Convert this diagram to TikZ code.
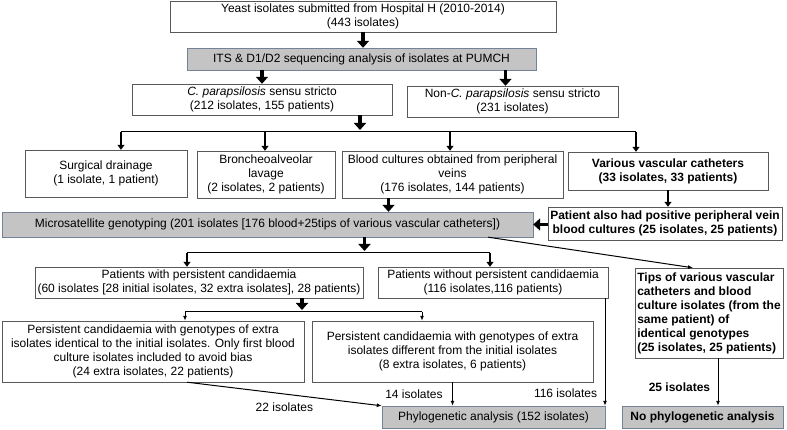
\documentclass[tikz,border=0pt]{standalone}
\usepackage{fontspec}
\setmainfont{Liberation Sans}
\usetikzlibrary{positioning,arrows.meta,calc}

\definecolor{greyfill}{RGB}{196,196,196}
\definecolor{greyedge}{RGB}{115,130,150}

\tikzset{
  box/.style={draw=black!65, rectangle, align=center, inner sep=2pt},
  greybox/.style={box, draw=greyedge, fill=greyfill},
  bigarrow/.style={line width=3.2pt, -{Triangle[width=12pt,length=7pt]}},
  medarrow/.style={line width=2pt, -{Triangle[width=7pt,length=5pt]}},
  smallarrow/.style={line width=1pt, -{Latex[width=4pt,length=5pt]}}
}

\begin{document}
\begin{tikzpicture}[x=1pt,y=-1pt,>=latex,
	font=\fontsize{12}{14}\selectfont]
	\useasboundingbox (0,0) rectangle (787,430);

	\node[box, minimum width=386, minimum height=31] 
		  (yeast) at (363,16.5) 
		  {Yeast isolates submitted from Hospital H (2010-2014)\\(443 isolates)};
	\node[greybox, minimum width=349, minimum height=22] 
		  (its) at (361.5,59) 
		  {ITS \& D1/D2 sequencing analysis of isolates at PUMCH};
	\node[box, minimum width=260, minimum height=31] 
		  (cpara) at (262,99.5) 
		  {\textit{C. parapsilosis} sensu stricto\\(212 isolates, 155 patients)};
	\node[box, minimum width=211, minimum height=31] 
		  (noncp) at (512.5,101.5) 
		  {Non-\textit{C. parapsilosis} sensu stricto\\(231 isolates)};

	\node[box, minimum width=162, minimum height=47] 
		  (surgical) at (106,173.5) 
		  {Surgical drainage\\(1 isolate, 1 patient)};
	\node[box, minimum width=138, minimum height=47] 
		  (broncho) at (266,174.5) 
		  {Broncheoalveolar\\lavage\\(2 isolates, 2 patients)};
	\node[box, minimum width=221, minimum height=47] 
		  (blood) at (452.5,174.5) 
		  {Blood cultures obtained from peripheral\\veins\\(176 isolates, 144 patients)};
	\node[box, minimum width=200, minimum height=38, font=\fontsize{12}{14}\bfseries] 
		  (vasc) at (668,171) 
		  {Various vascular catheters\\(33 isolates, 33 patients)};

	\node[greybox, minimum width=531, minimum height=25] 
		  (micro) at (267.5,224.5) 
		  {Microsatellite genotyping (201 isolates [176 blood+25tips of various vascular catheters])};
	\node[box, minimum width=234, minimum height=33, font=\fontsize{12}{14}\bfseries] 
		  (patient) at (665,223.5) 
		  {Patient also had positive peripheral vein\\blood cultures (25 isolates, 25 patients)};

	\node[box, minimum width=328, minimum height=31] 
		  (pwith) at (199,282.5) 
		  {Patients with persistent candidaemia\\(60 isolates [28 initial isolates, 32 extra isolates], 28 patients)};
	\node[box, minimum width=230, minimum height=31] 
		  (pwithout) at (493,282.5) 
		  {Patients without persistent candidaemia\\(116 isolates,116 patients)};
	\node[box, minimum width=148, minimum height=90, align=left, font=\fontsize{12}{14}\bfseries] 
		  (tips) at (709,313) 
		  {Tips of various vascular\\catheters and blood\\culture isolates (from the\\same patient) of\\identical genotypes\\(25 isolates, 25 patients)};

	\node[box, minimum width=302, minimum height=61] 
		  (psame) at (153,351.5) 
		  {Persistent candidaemia with genotypes of extra\\isolates identical to the initial isolates. Only first blood\\culture isolates included to avoid bias\\(24 extra isolates, 22 patients)};
	\node[box, minimum width=281, minimum height=61] 
		  (pdiff) at (452.5,351.5) 
		  {Persistent candidaemia with genotypes of extra\\isolates different from the initial isolates\\(8 extra isolates, 6 patients)};

	\node[greybox, minimum width=223, minimum height=22] 
		  (phylo) at (493.5,417) 
		  {Phylogenetic analysis (152 isolates)};
	\node[greybox, minimum width=161, minimum height=22, font=\fontsize{12}{14}\bfseries] 
		  (nophylo) at (702.5,417) 
		  {No phylogenetic analysis};

	% branch points
	\coordinate (b1) at (121,132);
	\coordinate (b2) at (265,132);
	\coordinate (b3) at (450,132);
	\coordinate (b4) at (636,132);
	\coordinate (c1) at (187,253);
	\coordinate (c2) at (490,253);
	\coordinate (d1) at (185,312);
	\coordinate (d2) at (422,312);

	\draw[bigarrow] (yeast.south) -- (yeast.south |- its.north);
	\draw[bigarrow] (its.south -| cpara.north) -- (cpara.north);
	\draw[bigarrow] ([xshift=-7pt]its.south -| noncp.north) -- ([xshift=-7pt]noncp.north);
	\draw[bigarrow] ([xshift=98pt]cpara.south) -- ([xshift=98pt,yshift=2pt]cpara.south |- b1);

	\draw[line width=1pt] (b1) -- (b4);
	\draw[medarrow] (b1) -- (b1 |- surgical.north);
	\draw[medarrow] (b2) -- (b2 |- broncho.north);
	\draw[medarrow] (b3) -- (b3 |- blood.north);
	\draw[medarrow] (b4) -- (b4 |- vasc.north);

	\draw[bigarrow] ([xshift=-64pt]blood.south) -- ([xshift=-64pt]blood.south |- micro.north);
	\draw[medarrow] (vasc.south) -- (vasc.south |- patient.north);
	\draw[bigarrow] (patient.west |- micro.east) -- (micro.east);

	\draw[bigarrow] ([xshift=97pt]micro.south) -- ([xshift=97pt,yshift=2pt]micro.south |- c1);
	\draw[line width=1pt] (c1) -- (c2);
	\draw[medarrow] (c1) -- (c1 |- pwith.north);
	\draw[medarrow] (c2) -- (c2 |- pwithout.north);
	\draw[smallarrow] ([xshift=-45pt]micro.south east) -- ([xshift=-16pt]tips.north);

	\draw[bigarrow] ([xshift=103pt]pwith.south) -- ([xshift=103pt,yshift=2pt]pwith.south |- d1);
	\draw[line width=1pt] (d1) -- (d2);
	\draw[smallarrow] (d1) -- (d1 |- psame.north);
	\draw[smallarrow] (d2) -- (d2 |- pdiff.north);

	\draw[smallarrow] ([xshift=34pt]psame.south) -- node[pos=0.5, below=5pt] {22 isolates} (phylo.north west);
	\draw[smallarrow] (pdiff.south) -- node[left=6pt] {14 isolates} (pdiff.south |- phylo.north);
	\draw[smallarrow] ([xshift=112pt]pwithout.south) -- node[pos=0.88, left=4pt] {116 isolates} ([xshift=112pt]pwithout.south |- phylo.north);
	\draw[smallarrow] ([xshift=9pt]tips.south) -- node[pos=0.6, left=4pt, font=\fontsize{12}{14}\bfseries] {25 isolates} ([xshift=9pt]tips.south |- nophylo.north);
\end{tikzpicture}
\end{document}
